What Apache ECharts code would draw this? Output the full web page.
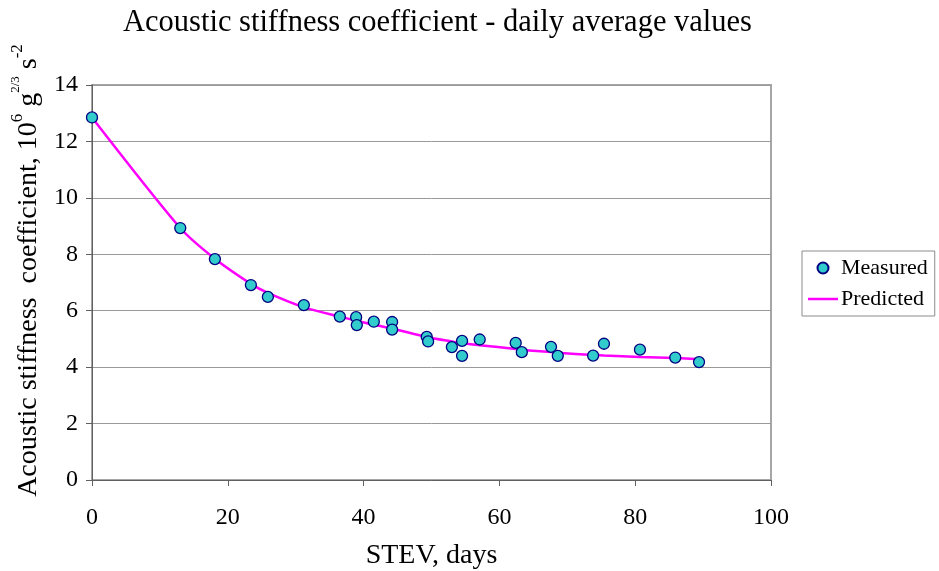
<!DOCTYPE html>
<html>
<head>
<meta charset="utf-8">
<script src="https://cdn.jsdelivr.net/npm/echarts@6/dist/echarts.min.js"></script>
<style>
  html, body { margin: 0; padding: 0; background: #fff; }
  #chart { width: 939px; height: 571px; }
</style>
</head>
<body>
<div id="chart"></div>
<script>
// Daily averages of the acoustic stiffness coefficient (10^6 g^2/3 s^-2) vs STEV (days)
var measuredDays = [0, 13.0, 18.1, 23.4, 25.9, 31.2, 36.5, 38.9, 39.0, 41.5, 44.2, 44.2,
  49.3, 49.5, 53.0, 54.5, 54.5, 57.1, 62.4, 63.3, 67.6, 68.6, 73.8, 75.4, 80.7, 85.9, 89.4];
var measuredValues = [12.85, 8.93, 7.83, 6.91, 6.49, 6.20, 5.79, 5.77, 5.49, 5.61, 5.60, 5.33,
  5.07, 4.91, 4.71, 4.93, 4.40, 4.98, 4.86, 4.53, 4.72, 4.40, 4.41, 4.83, 4.62, 4.34, 4.18];

// Model fit evaluated at the measurement days
var predictedDays = [0, 13.0, 18.1, 23.4, 25.9, 31.2, 36.5, 38.9, 41.5, 44.2, 49.3, 53.0,
  54.5, 57.1, 62.4, 63.3, 67.6, 68.6, 73.8, 75.4, 80.7, 85.9, 89.4];
var predictedValues = [12.85, 8.93, 7.84, 6.95, 6.63, 6.12, 5.79, 5.65, 5.50, 5.37, 5.07, 4.91,
  4.85, 4.78, 4.64, 4.61, 4.54, 4.51, 4.43, 4.41, 4.36, 4.32, 4.28];

var xTicks = { min: 0, max: 100, step: 20 };
var yTicks = { min: 0, max: 14, step: 2 };

function pairs(xs, ys) {
  return xs.map(function (x, i) { return [x, ys[i]]; });
}

var serif = '"Liberation Serif", "DejaVu Serif", serif';
var chart = echarts.init(document.getElementById('chart'), null, { renderer: 'canvas' });

chart.setOption({
  animation: false,
  backgroundColor: '#ffffff',
  textStyle: { fontFamily: serif, color: '#000' },
  title: {
    text: 'Acoustic stiffness coefficient - daily average values',
    left: 432.5, top: 2, textAlign: 'center',
    textStyle: { fontFamily: serif, fontSize: 30.5, fontWeight: 'normal', color: '#000' }
  },
  grid: {
    left: 92, top: 85, right: 168, bottom: 91,
    outerBoundsMode: 'none',
    containLabel: false,
    show: true, borderColor: '#a6a6a6', borderWidth: 2, backgroundColor: '#fff'
  },
  legend: {
    orient: 'vertical',
    left: 802, top: 251,
    padding: [6, 7, 6, 6],
    itemGap: 9,
    itemWidth: 30, itemHeight: 11,
    borderColor: '#8c8c8c', borderWidth: 1, backgroundColor: '#fff',
    textStyle: { fontFamily: serif, fontSize: 22, color: '#000', padding: [0, 0, 0, -2] },
    data: [
      { name: 'Measured', icon: 'circle' },
      { name: 'Predicted', icon: 'path://M0,0H60V5H0Z', itemStyle: { color: '#ff00ff' } }
    ]
  },
  xAxis: {
    type: 'value',
    min: xTicks.min, max: xTicks.max, interval: xTicks.step,
    name: 'STEV, days',
    nameLocation: 'middle', nameGap: 62,
    nameTextStyle: { fontFamily: serif, fontSize: 28, color: '#000' },
    axisLine: { show: true, lineStyle: { color: '#606060', width: 1 } },
    axisTick: { show: true, inside: false, length: 6, lineStyle: { color: '#606060' } },
    axisLabel: { fontFamily: serif, fontSize: 24, color: '#000', margin: 26 },
    splitLine: { show: false }
  },
  yAxis: {
    type: 'value',
    min: yTicks.min, max: yTicks.max, interval: yTicks.step,
    name: '{m|Acoustic stiffness  coefficient, 10}{s|6}{m| g}{t|2/3}{m| s}{s|-2}',
    nameLocation: 'middle', nameGap: 46, nameRotate: 90,
    nameTextStyle: {
      fontFamily: serif, fontSize: 28, color: '#000',
      padding: [0, 0, 0, 24],
      rich: {
        m: { fontFamily: serif, fontSize: 28, color: '#000', verticalAlign: 'bottom', lineHeight: 34 },
        s: { fontFamily: serif, fontSize: 17, color: '#000', verticalAlign: 'top', lineHeight: 18 },
        t: { fontFamily: serif, fontSize: 13, color: '#000', verticalAlign: 'top', lineHeight: 14 }
      }
    },
    axisLine: { show: true, lineStyle: { color: '#606060', width: 1 } },
    axisTick: { show: true, inside: false, length: 6, lineStyle: { color: '#606060' } },
    axisLabel: { fontFamily: serif, fontSize: 24, color: '#000', margin: 14 },
    splitLine: { show: true, lineStyle: { color: '#999999', width: 1 } }
  },
  series: [
    {
      name: 'Predicted',
      type: 'line',
      data: pairs(predictedDays, predictedValues),
      smooth: 0.25,
      showSymbol: false,
      symbol: 'none',
      lineStyle: { color: '#ff00ff', width: 2.5 },
      itemStyle: { color: '#ff00ff' },
      z: 2
    },
    {
      name: 'Measured',
      type: 'scatter',
      data: pairs(measuredDays, measuredValues),
      symbol: 'circle',
      symbolSize: 11,
      itemStyle: { color: '#33cccc', borderColor: '#000080', borderWidth: 1.3, opacity: 1 },
      z: 3
    }
  ]
});
</script>
</body>
</html>
